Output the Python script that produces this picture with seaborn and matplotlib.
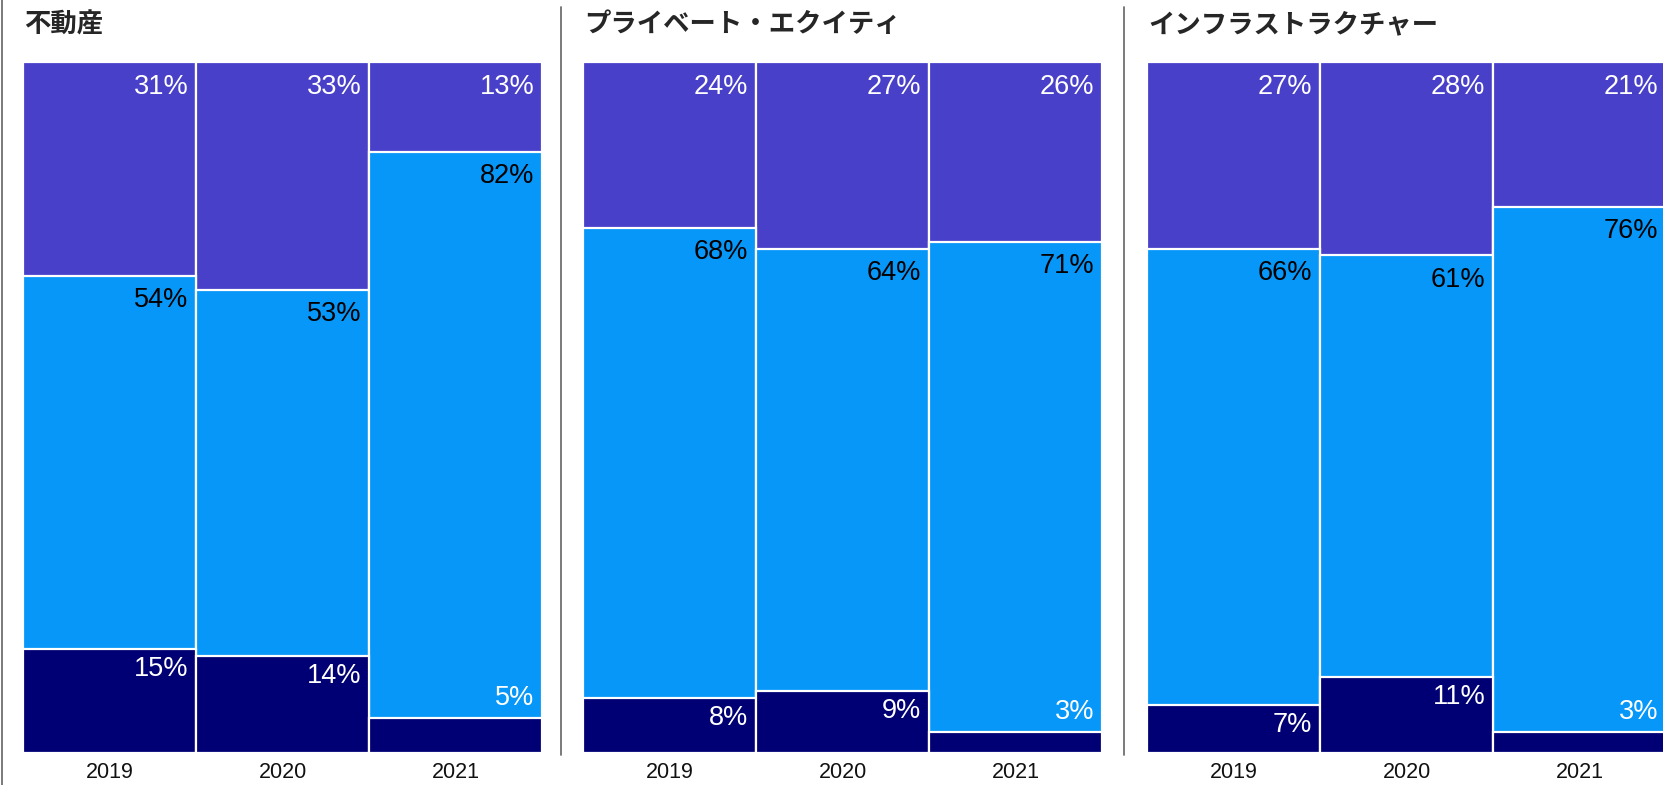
import matplotlib
matplotlib.use("Agg")
import matplotlib.pyplot as plt
from matplotlib.lines import Line2D
import seaborn as sns
import pandas as pd
import numpy as np

sns.set_style("white")
plt.rcParams['font.family'] = ['Liberation Sans', 'Noto Sans CJK JP', 'DejaVu Sans']

panels = ['不動産', 'プライベート・エクイティ', 'インフラストラクチャー']
years = ['2019', '2020', '2021']

# shares per panel (bottom / middle / top), percent
bottom_vals = [[15, 14, 5], [8, 9, 3], [7, 11, 3]]
middle_vals = [[54, 53, 82], [68, 64, 71], [66, 61, 76]]
top_vals = [[31, 33, 13], [24, 27, 26], [27, 28, 21]]

c_top = '#4940C9'
c_mid = '#0697F8'
c_bot = '#000074'

W, H = 1663, 785
fig = plt.figure(figsize=(W / 100, H / 100), dpi=100)

lefts_px = [23, 583, 1147]
ax_w = 519 / W
ax_b = 1 - 753 / H
ax_h = (753 - 62) / H

for p, name in enumerate(panels):
    ax = fig.add_axes([lefts_px[p] / W, ax_b, ax_w, ax_h])
    df = pd.DataFrame({
        'year': years,
        'bot': bottom_vals[p],
        'mid': middle_vals[p],
        'top': top_vals[p],
    })
    df['c_mid'] = df['bot'] + df['mid']
    df['c_top'] = df['c_mid'] + df['top']

    # stacked by overlaying cumulative totals
    for col, color in [('c_top', c_top), ('c_mid', c_mid), ('bot', c_bot)]:
        sns.barplot(data=df, x='year', y=col, color=color, width=1, errorbar=None,
                    edgecolor='white', linewidth=1.6, ax=ax, saturation=1)

    for i, row in df.iterrows():
        kw = dict(textcoords='offset points', ha='right', fontsize=19.5)
        ax.annotate(f"{row['top']}%", (i + 0.5, row['c_top']), xytext=(-5.5, -8.5),
                    va='top', color='white', **kw)
        ax.annotate(f"{row['mid']}%", (i + 0.5, row['c_mid']), xytext=(-5.5, -8),
                    va='top', color='black', **kw)
        if row['bot'] >= 6:
            ax.annotate(f"{row['bot']}%", (i + 0.5, row['bot']), xytext=(-5.5, -5),
                        va='top', color='white', **kw)
        else:
            ax.annotate(f"{row['bot']}%", (i + 0.5, row['bot']), xytext=(-5.5, 5.2),
                        va='bottom', color='white', **kw)

    ax.set_xlim(-0.5, 2.5)
    ax.set_ylim(0, 100)
    ax.set_yticks(np.arange(0, 101, 20))
    ax.set_yticklabels([])
    ax.set_xlabel('')
    ax.set_ylabel('')
    ax.tick_params(axis='both', length=1.5, width=0.8, color='#aaaaaa')
    ax.tick_params(axis='x', labelsize=15.5, labelcolor='#111111', pad=5)
    for s in ax.spines.values():
        s.set_visible(False)

    fig.text((lefts_px[p] + 1) / W, 1 - 25 / H, name, ha='left', va='center',
             fontsize=19, fontweight='bold', family=['Noto Sans CJK JP', 'DejaVu Sans'])

# panel separators
fig.add_artist(Line2D([2 / W, 2 / W], [0, 1], color='#707070', lw=1.3))
for xp in [561, 1124]:
    fig.add_artist(Line2D([xp / W, xp / W], [1 - 755 / H, 1 - 7 / H], color='#707070', lw=1.3))

fig.savefig('out.png', dpi=100)
